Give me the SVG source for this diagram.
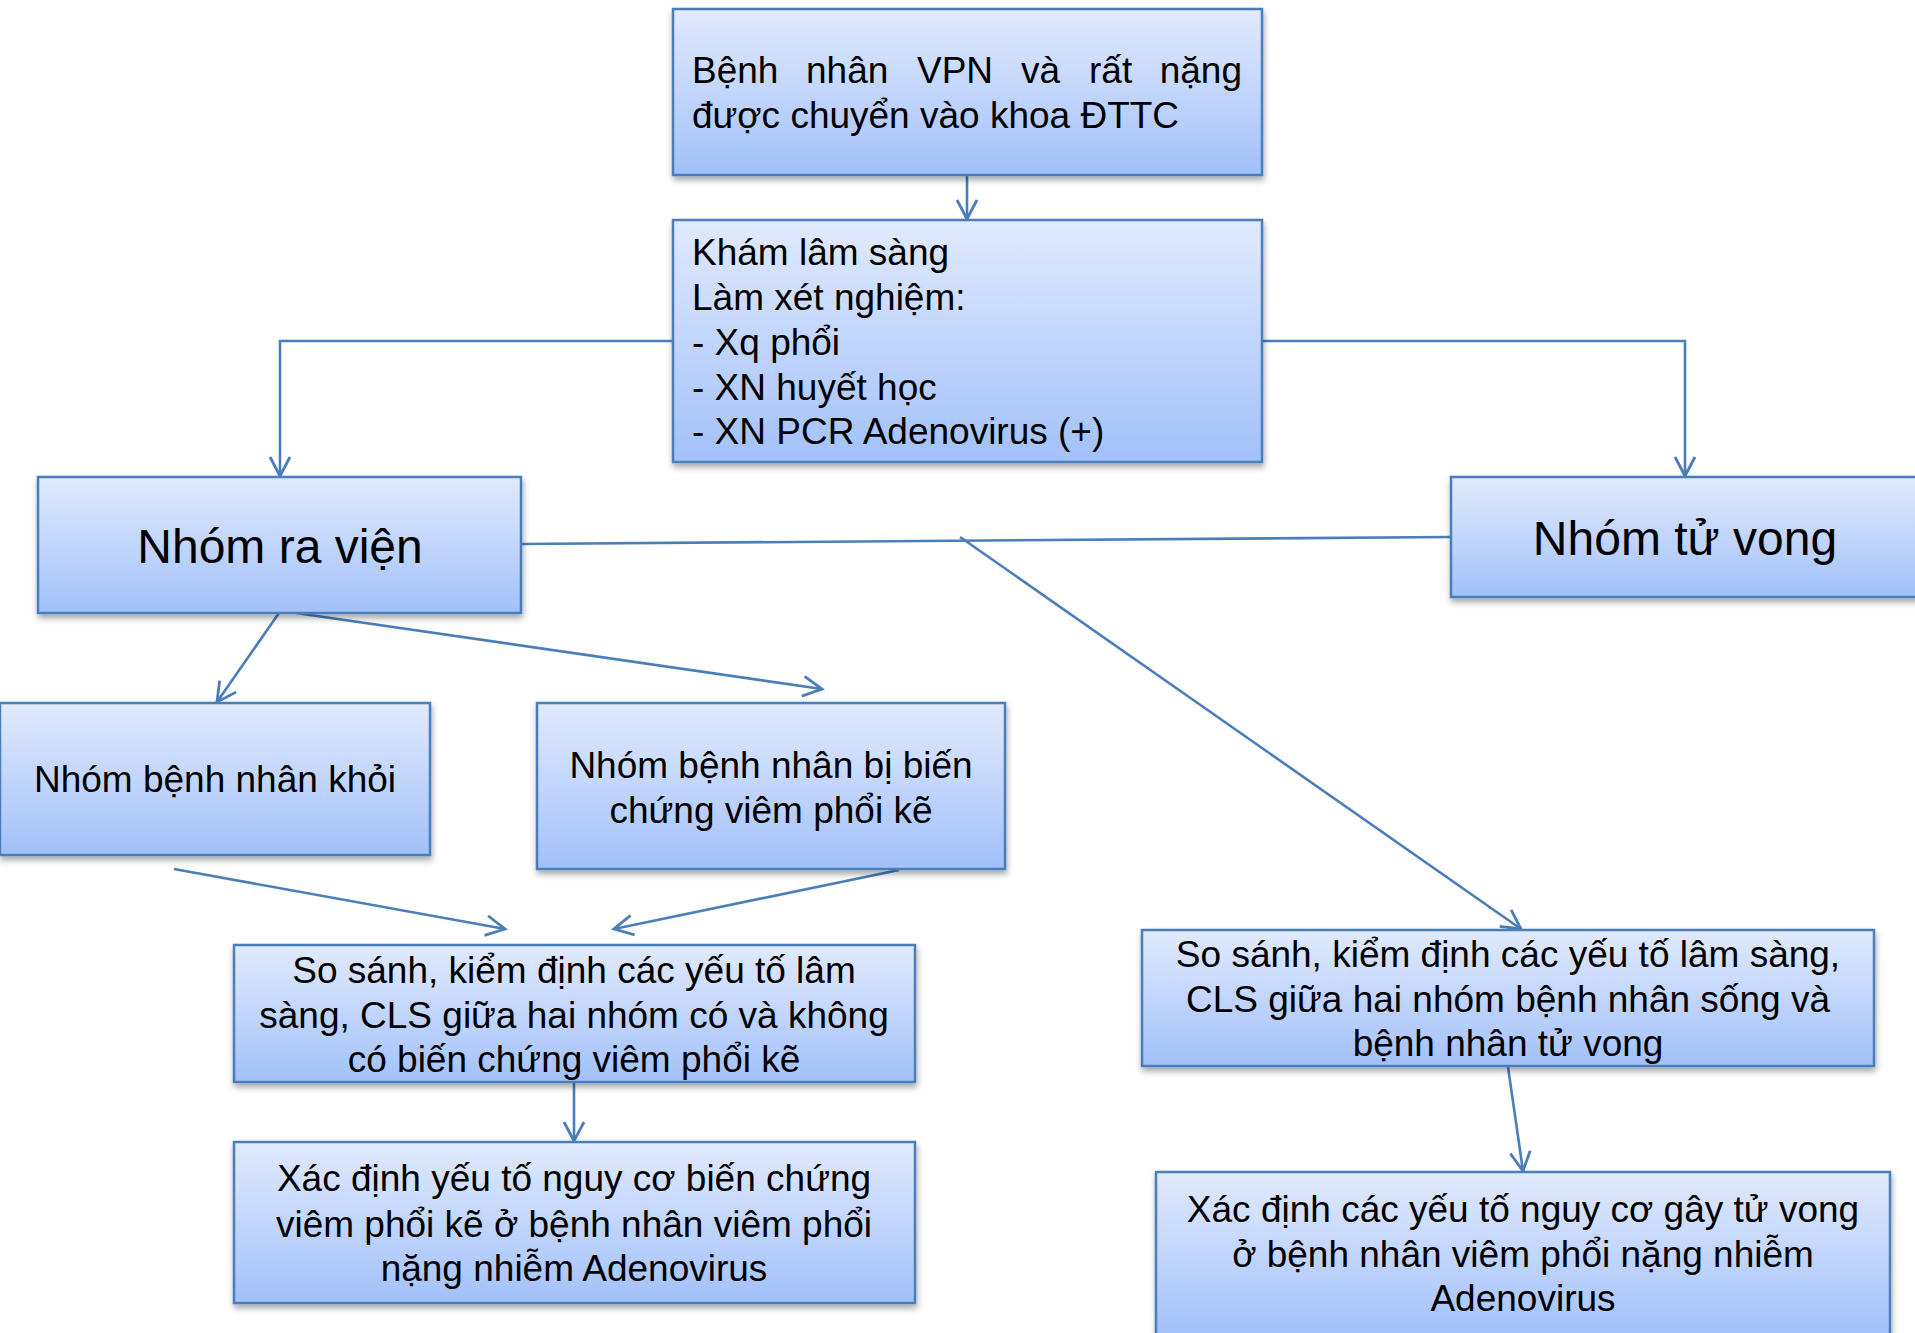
<svg xmlns="http://www.w3.org/2000/svg" width="1915" height="1333" viewBox="0 0 1915 1333">
<defs>
<linearGradient id="g" x1="0" y1="0" x2="0" y2="1">
<stop offset="0" stop-color="#e1eafd"/>
<stop offset="1" stop-color="#a2c1fa"/>
</linearGradient>
<filter id="sh" x="-10%" y="-10%" width="120%" height="130%">
<feDropShadow dx="1" dy="4" stdDeviation="3" flood-color="#000" flood-opacity="0.35"/>
</filter>
<marker id="ah" markerUnits="userSpaceOnUse" markerWidth="34" markerHeight="34" viewBox="-24 -17 34 34" refX="0" refY="0" orient="auto">
<path d="M-19,-10 L0,0 L-19,10" fill="none" stroke="#4a7ebb" stroke-width="2.8"/>
</marker>
<style>
.box{fill:url(#g);stroke:#4a7ebb;stroke-width:2.5;filter:url(#sh)}
.t{font-family:"Liberation Sans",Arial,sans-serif;font-size:37px;fill:#000}
.c{text-anchor:middle}
.big{font-size:48px}
.ln{fill:none;stroke:#4a7ebb;stroke-width:2.6}
.arr{marker-end:url(#ah)}
</style>
</defs>
<rect width="1915" height="1333" fill="#fff"/>

<g id="connectors">
<line class="ln arr" x1="967" y1="175" x2="967" y2="219"/>
<polyline class="ln arr" points="673,341 280,341 280,476"/>
<polyline class="ln arr" points="1262,341 1685,341 1685,476"/>
<line class="ln" x1="521" y1="544" x2="1451" y2="537"/>
<line class="ln arr" x1="960" y1="537" x2="1521" y2="929"/>
<line class="ln arr" x1="279" y1="613" x2="217" y2="702"/>
<line class="ln arr" x1="296" y1="613" x2="822" y2="689"/>
<line class="ln arr" x1="174" y1="869" x2="505" y2="929"/>
<line class="ln arr" x1="899" y1="870" x2="614" y2="929"/>
<line class="ln arr" x1="574" y1="1082" x2="574" y2="1141"/>
<line class="ln arr" x1="1508" y1="1067" x2="1523" y2="1171"/>
</g>

<g id="n1">
<rect class="box" x="673" y="9" width="589" height="166"/>
<text class="t" y="83"><tspan x="692">Bệnh</tspan><tspan x="806">nhân</tspan><tspan x="917">VPN</tspan><tspan x="1021">và</tspan><tspan x="1089">rất</tspan><tspan x="1242" text-anchor="end">nặng</tspan></text>
<text class="t" x="692" y="128">được chuyển vào khoa ĐTTC</text>
</g>

<g id="n2">
<rect class="box" x="673" y="220" width="589" height="242"/>
<text class="t" x="692" y="265">Khám lâm sàng</text>
<text class="t" x="692" y="310">Làm xét nghiệm:</text>
<text class="t" x="692" y="355">- Xq phổi</text>
<text class="t" x="692" y="400">- XN huyết học</text>
<text class="t" x="692" y="444">- XN PCR Adenovirus (+)</text>
</g>

<g id="n3">
<rect class="box" x="38" y="477" width="483" height="136"/>
<text class="t big c" x="280" y="563">Nhóm ra viện</text>
</g>

<g id="n4">
<rect class="box" x="1451" y="477" width="470" height="120"/>
<text class="t big c" x="1685" y="555">Nhóm tử vong</text>
</g>

<g id="n5">
<rect class="box" x="0" y="703" width="430" height="152"/>
<text class="t c" x="215" y="792">Nhóm bệnh nhân khỏi</text>
</g>

<g id="n6">
<rect class="box" x="537" y="703" width="468" height="166"/>
<text class="t c" x="771" y="778">Nhóm bệnh nhân bị biến</text>
<text class="t c" x="771" y="823">chứng viêm phổi kẽ</text>
</g>

<g id="n7">
<rect class="box" x="234" y="945" width="681" height="137"/>
<text class="t c" x="574" y="983">So sánh, kiểm định các yếu tố lâm</text>
<text class="t c" x="574" y="1028">sàng, CLS giữa hai nhóm có và không</text>
<text class="t c" x="574" y="1072">có biến chứng viêm phổi kẽ</text>
</g>

<g id="n8">
<rect class="box" x="234" y="1142" width="681" height="161"/>
<text class="t c" x="574" y="1191">Xác định yếu tố nguy cơ biến chứng</text>
<text class="t c" x="574" y="1237">viêm phổi kẽ ở bệnh nhân viêm phổi</text>
<text class="t c" x="574" y="1281">nặng nhiễm Adenovirus</text>
</g>

<g id="n9">
<rect class="box" x="1142" y="930" width="732" height="136"/>
<text class="t c" x="1508" y="967">So sánh, kiểm định các yếu tố lâm sàng,</text>
<text class="t c" x="1508" y="1012">CLS giữa hai nhóm bệnh nhân sống và</text>
<text class="t c" x="1508" y="1056">bệnh nhân tử vong</text>
</g>

<g id="n10">
<rect class="box" x="1156" y="1172" width="734" height="165"/>
<text class="t c" x="1523" y="1222">Xác định các yếu tố nguy cơ gây tử vong</text>
<text class="t c" x="1523" y="1267">ở bệnh nhân viêm phổi nặng nhiễm</text>
<text class="t c" x="1523" y="1311">Adenovirus</text>
</g>
</svg>
